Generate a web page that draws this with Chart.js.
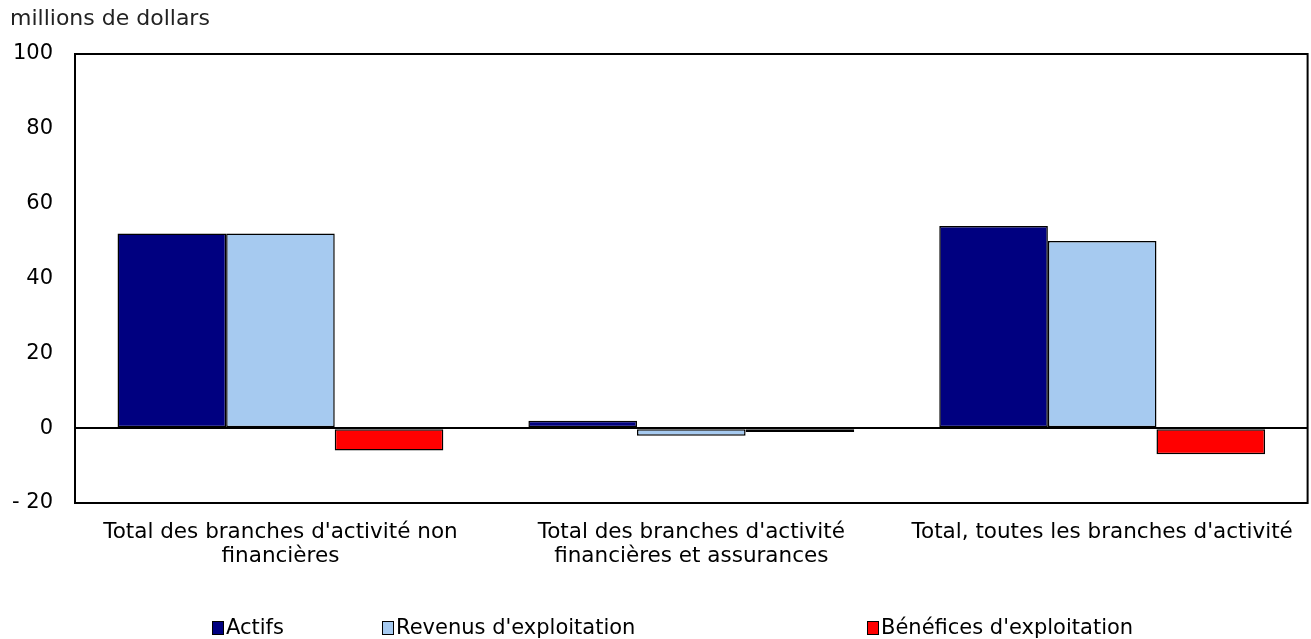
<!DOCTYPE html>
<html>
<head>
<meta charset="utf-8">
<script src="https://cdn.jsdelivr.net/npm/chart.js@4"></script>
<style>
  html, body { margin:0; padding:0; background:#fff; }
  #wrap { position:relative; width:1311px; height:639px; }
  #title { position:absolute; left:10px; top:4px; font:22px "DejaVu Sans", Verdana, sans-serif; color:#222; line-height:28px; }
  .leg { position:absolute; top:613px; font:21px "DejaVu Sans", Verdana, sans-serif; color:#000; white-space:nowrap; line-height:28px; }
  .leg span.box { display:inline-block; width:10px; height:12px; border:1px solid #000; margin-right:2px; vertical-align:-1px; }
  canvas { position:absolute; left:0; top:0; }
</style>
</head>
<body>
<div id="wrap">
  <canvas id="c" width="1311" height="639"></canvas>
  <div id="title">millions de dollars</div>
  <div id="legend"></div>
</div>
<script>
const categories = [
  ["Total des branches d'activité non", "financières"],
  ["Total des branches d'activité", "financières et assurances"],
  ["Total, toutes les branches d'activité"]
];
const seriesNames = ["Actifs", "Revenus d'exploitation", "Bénéfices d'exploitation"];
const actifs = [52, 2, 54];
const revenus = [52, -2, 50];
const benefices = [-6, -1, -7];
const colors = ["#000080", "#A6CAF0", "#FF0000"];
const yTicks = [-20, 0, 20, 40, 60, 80, 100];

const FONT = "'DejaVu Sans', Verdana, sans-serif";

// HTML legend
const legPos = [212, 382, 867];
const legend = document.getElementById('legend');
seriesNames.forEach((n, i) => {
  const d = document.createElement('div');
  d.className = 'leg';
  d.style.left = legPos[i] + 'px';
  d.innerHTML = '<span class="box" style="background:' + colors[i] + '"></span>' + n;
  legend.appendChild(d);
});

const frame = {
  id: 'frame',
  afterDraw(chart) {
    const {ctx, chartArea: a} = chart;
    ctx.save();
    ctx.strokeStyle = '#000';
    ctx.lineWidth = 2;
    ctx.strokeRect(a.left, a.top, a.right - a.left, a.bottom - a.top);
    ctx.restore();
  }
};

new Chart(document.getElementById('c'), {
  type: 'bar',
  data: {
    labels: categories,
    datasets: [
      { label: seriesNames[0], data: actifs, backgroundColor: colors[0] },
      { label: seriesNames[1], data: revenus, backgroundColor: colors[1] },
      { label: seriesNames[2], data: benefices, backgroundColor: colors[2] }
    ].map(d => Object.assign(d, { borderColor: '#000', borderWidth: 1.5, borderSkipped: false,
      barPercentage: 1, categoryPercentage: 0.793 }))
  },
  options: {
    responsive: false,
    animation: false,
    devicePixelRatio: 1,
    layout: { padding: { top: 54, right: 1, bottom: 0, left: 0 } },
    plugins: { legend: { display: false }, tooltip: { enabled: false } },
    scales: {
      x: {
        grid: { display: false, drawTicks: false },
        border: { display: true, color: '#000', width: 2 },
        ticks: { color: '#000', font: { family: FONT, size: 21.5, lineHeight: 1.1 }, padding: 18, maxRotation: 0, autoSkip: false },
        afterFit(s) { s.height = 136; }
      },
      y: {
        min: -20, max: 100,
        afterBuildTicks(s) { s.ticks = yTicks.map(v => ({ value: v })); },
        grid: {
          drawTicks: false,
          color: c => (c.tick && c.tick.value === 0) ? '#000' : 'rgba(0,0,0,0)',
          lineWidth: 2
        },
        border: { display: true, color: '#000', width: 2 },
        ticks: {
          color: '#000', font: { family: FONT, size: 21 }, padding: 22,
          callback: v => v < 0 ? '- ' + Math.abs(v) : String(v)
        },
        afterFit(s) { s.width = 75; }
      }
    }
  },
  plugins: [frame]
});
</script>
</body>
</html>
